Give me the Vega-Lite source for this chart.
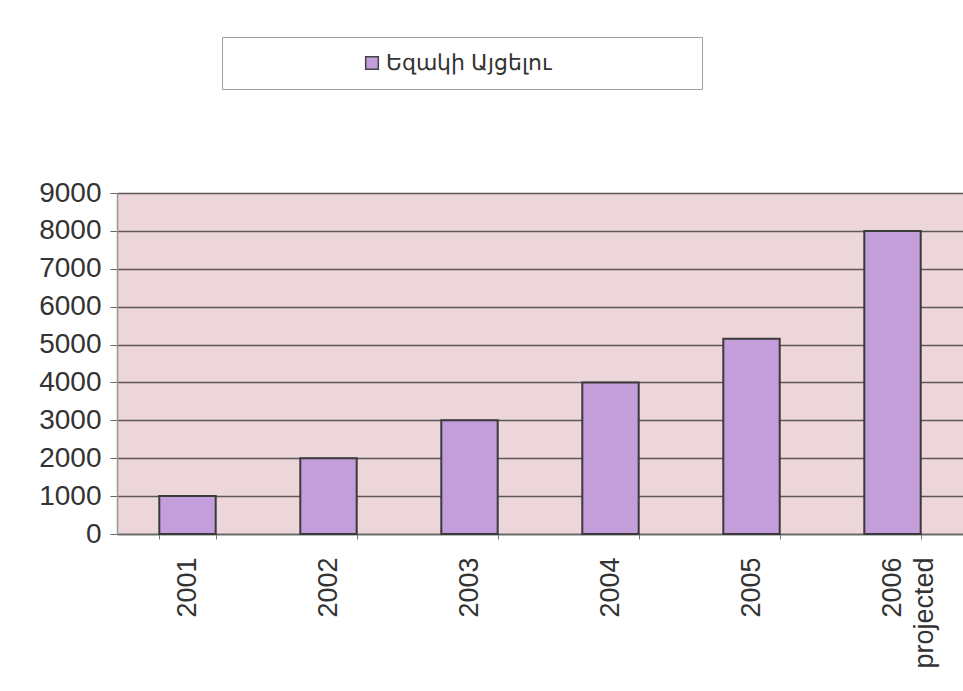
{
  "$schema": "https://vega.github.io/schema/vega-lite/v6.json",
  "width": 846,
  "height": 341,
  "autosize": {"type": "none"},
  "padding": {"left": 117, "top": 193, "right": 0, "bottom": 157},
  "background": "white",
  "data": {
    "values": [
      {"year": "2001", "visitors": 1000, "series": "Եզակի Այցելու"},
      {"year": "2002", "visitors": 2000, "series": "Եզակի Այցելու"},
      {"year": "2003", "visitors": 3000, "series": "Եզակի Այցելու"},
      {"year": "2004", "visitors": 4000, "series": "Եզակի Այցելու"},
      {"year": "2005", "visitors": 5150, "series": "Եզակի Այցելու"},
      {"year": "2006 projected", "visitors": 8000, "series": "Եզակի Այցելու"}
    ]
  },
  "mark": {"type": "bar", "stroke": "#3a3a3a", "strokeWidth": 2},
  "encoding": {
    "x": {
      "field": "year",
      "type": "nominal",
      "sort": null,
      "scale": {"paddingInner": 0.6, "paddingOuter": 0.3},
      "axis": {
        "title": null,
        "labelAngle": -90,
        "labelExpr": "split(datum.label, ' ')",
        "labelFontSize": 27,
        "labelLineHeight": 32,
        "labelFont": "Liberation Sans",
        "labelColor": "#333333",
        "labelPadding": 18,
        "tickSize": 5,
        "tickColor": "#777777",
        "tickBand": "extent",
        "domainColor": "#666666",
        "domainWidth": 1.5,
        "grid": false
      }
    },
    "y": {
      "field": "visitors",
      "type": "quantitative",
      "scale": {"domain": [0, 9000], "nice": false},
      "axis": {
        "title": null,
        "values": [0, 1000, 2000, 3000, 4000, 5000, 6000, 7000, 8000, 9000],
        "format": "d",
        "labelFontSize": 28,
        "labelFont": "Liberation Sans",
        "labelColor": "#333333",
        "labelPadding": 9,
        "tickSize": 7,
        "tickColor": "#666666",
        "domainColor": "#999999",
        "domainWidth": 1.5,
        "grid": true,
        "gridColor": "#5e5658",
        "gridWidth": 1.5
      }
    },
    "color": {
      "field": "series",
      "type": "nominal",
      "scale": {"range": ["#c49ddb"]},
      "legend": {
        "title": null,
        "orient": "none",
        "legendX": 105,
        "legendY": -156,
        "padding": 15,
        "strokeColor": "#a0a0a0",
        "fillColor": "white",
        "symbolType": "square",
        "symbolSize": 160,
        "symbolStrokeColor": "#444444",
        "symbolStrokeWidth": 1.5,
        "symbolOffset": 124,
        "labelFontSize": 22,
        "labelFont": "Liberation Sans",
        "labelColor": "#333333",
        "labelOffset": 3,
        "labelLimit": 500,
        "labelExpr": "datum.label + '\u00a0\u00a0\u00a0\u00a0\u00a0\u00a0\u00a0\u00a0\u00a0\u00a0\u00a0\u00a0\u00a0\u00a0\u00a0\u00a0\u00a0\u00a0\u00a0\u00a0\u00a0\u00a0\u200b'"
      }
    }
  },
  "config": {
    "view": {"fill": "#ecd6d9", "stroke": null}
  }
}
